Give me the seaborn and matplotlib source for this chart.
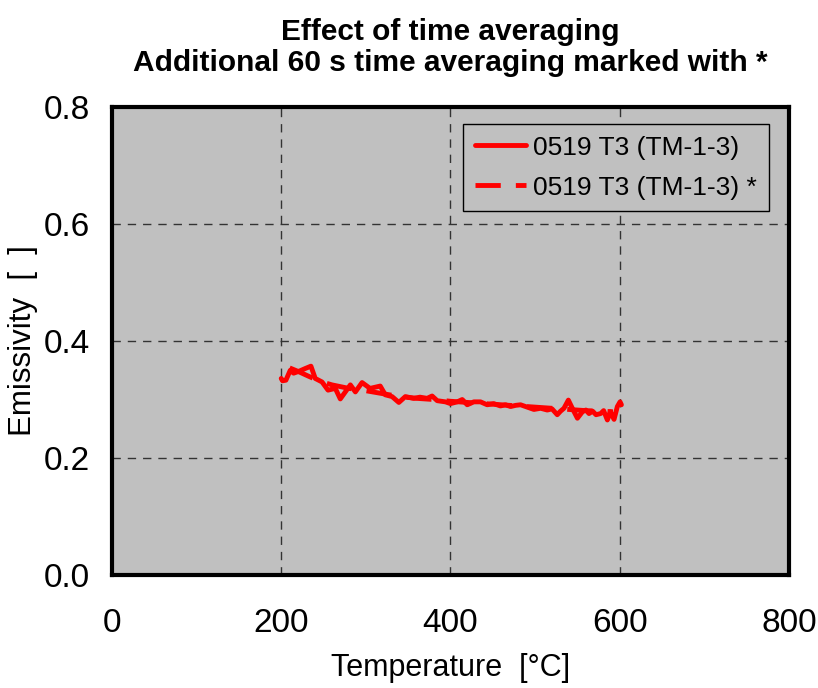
import matplotlib
matplotlib.use("Agg")
import matplotlib.pyplot as plt
from matplotlib.ticker import MultipleLocator
import seaborn as sns
import pandas as pd

# Data
temp_raw = [200, 201.5, 205.5, 210.7, 214.6, 220.5, 228.4, 235.1, 240.2, 248.2, 255.3, 263.9, 269.8,
            281.7, 287.6, 295.5, 305, 317, 323, 331, 339, 346.7, 356.5, 364, 372.4, 378.3, 384.3,
            394, 400, 408, 413.9, 419.8, 427.6, 435.5, 443.4, 451, 459, 465, 471, 477, 482.8,
            490.7, 498.6, 506.5, 514.4, 520, 526.2, 530, 534.1, 539.3, 544, 550, 555.9, 560,
            563.7, 568, 572, 577.5, 581, 585.4, 589, 593.3, 597.2, 600.4, 602]
emis_raw = [0.336, 0.332, 0.333, 0.350, 0.345, 0.348, 0.353, 0.357, 0.336, 0.330, 0.316, 0.319, 0.301,
            0.325, 0.313, 0.329, 0.319, 0.323, 0.308, 0.305, 0.295, 0.305, 0.302, 0.304, 0.302, 0.306, 0.298,
            0.296, 0.293, 0.296, 0.300, 0.291, 0.296, 0.296, 0.291, 0.293, 0.289, 0.291, 0.288, 0.290, 0.291,
            0.287, 0.283, 0.285, 0.282, 0.284, 0.274, 0.280, 0.285, 0.299, 0.285, 0.268, 0.279, 0.282,
            0.276, 0.280, 0.274, 0.276, 0.281, 0.265, 0.279, 0.266, 0.288, 0.296, 0.291]

temp_avg = [210, 220, 232, 246, 260, 280, 300, 320, 340, 360, 380, 400, 420, 440, 460, 480, 500,
            520, 540, 560, 580, 592]
emis_avg = [0.354, 0.348, 0.340, 0.331, 0.325, 0.319, 0.315, 0.310, 0.305, 0.302, 0.300, 0.297,
            0.295, 0.293, 0.291, 0.289, 0.287, 0.285, 0.283, 0.281, 0.280, 0.279]

labels = ["0519 T3 (TM-1-3)", "0519 T3 (TM-1-3) *"]
x_ticks = [0, 200, 400, 600, 800]
y_ticks = [0.0, 0.2, 0.4, 0.6, 0.8]

sns.set_theme(style="white")
plt.rcParams['font.family'] = ['Liberation Sans', 'DejaVu Sans']
plt.rcParams['text.color'] = 'black'
plt.rcParams['axes.labelcolor'] = 'black'

df_raw = pd.DataFrame({"T": temp_raw, "E": emis_raw})
df_avg = pd.DataFrame({"T": temp_avg, "E": emis_avg})

fig = plt.figure(figsize=(8.18, 6.88), dpi=100)
ax = fig.add_axes([0.1369, 0.1642, 0.8276, 0.6803])
ax.set_facecolor("#C0C0C0")

DASH = [5.2, 3.1]
sns.lineplot(data=df_raw, x="T", y="E", ax=ax, color="#FF0000", lw=3.5, label=labels[0],
             sort=False, estimator=None)
sns.lineplot(data=df_avg, x="T", y="E", ax=ax, color="#FF0000", lw=3.5, label=labels[1],
             sort=False, estimator=None)
ax.lines[1].set_dashes(DASH)

ax.set_xlim(0, 800)
ax.set_ylim(0, 0.8)
ax.set_xticks(x_ticks)
ax.set_yticks(y_ticks)
ax.set_xticklabels([str(v) for v in x_ticks])
ax.set_yticklabels([f"{v:.1f}" for v in y_ticks])
ax.xaxis.set_minor_locator(MultipleLocator(50))
ax.yaxis.set_minor_locator(MultipleLocator(0.05))
ax.tick_params(axis="both", which="major", direction="in", length=8, width=3,
               labelsize=24, colors="black")
ax.tick_params(axis="both", which="minor", direction="in", length=5, width=3)
ax.tick_params(axis="x", which="major", pad=24)
ax.tick_params(axis="y", which="major", pad=16)
for lab in ax.get_xticklabels() + ax.get_yticklabels():
    lab.set_color("black")

for s in ax.spines.values():
    s.set_linewidth(3)
    s.set_color("black")

for v in [200, 400, 600]:
    ax.axvline(v, color="#333333", lw=1, ls=(0, (6, 5)), zorder=0.5)
for v in [0.2, 0.4, 0.6]:
    ax.axhline(v, color="#333333", lw=1, ls=(0, (6, 5)), zorder=0.5)

ax.set_xlabel("Temperature  [°C]", fontsize=22, labelpad=10, color="black")
ax.set_ylabel("Emissivity  [  ]", fontsize=22.5, color="black")
ax.yaxis.set_label_coords(-0.109, 0.5)
ax.set_title("Effect of time averaging\nAdditional 60 s time averaging marked with *",
             fontsize=21.5, fontweight="bold", pad=26, color="black", linespacing=1.15)

leg = ax.legend(loc="upper right", bbox_to_anchor=(0.970, 0.964), fontsize=19,
                frameon=True, fancybox=False, handlelength=1.95, borderpad=0.45,
                labelspacing=0.6, handletextpad=0.25, borderaxespad=0)
leg.get_frame().set_facecolor("#C0C0C0")
leg.get_frame().set_edgecolor("black")
leg.get_frame().set_linewidth(1)
leg.get_frame().set_alpha(1)
for t in leg.get_texts():
    t.set_color("black")
for h in leg.get_lines():
    h.set_linewidth(3.5)
leg.get_lines()[1].set_dashes(DASH)

fig.savefig("out.png", dpi=100)
